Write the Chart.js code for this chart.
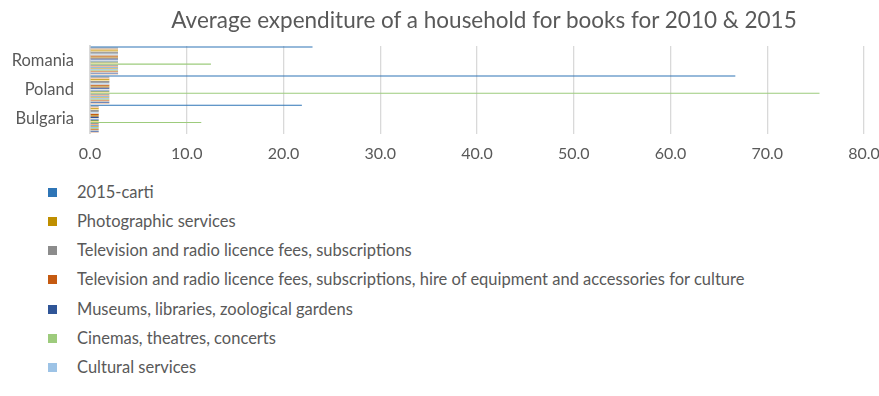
<!DOCTYPE html>
<html>
<head>
<meta charset="utf-8">
<script src="https://cdn.jsdelivr.net/npm/chart.js@4"></script>
<style>
    body { margin: 0; background: #fff; }
    #wrap { position: relative; width: 879px; height: 396px; overflow: hidden; }
    #booksChart { display: block; }
    #title { position: absolute; left: 0; top: 6px; width: 968px; text-align: center; font-family: Lato, sans-serif; font-size: 22.5px; line-height: 28px; color: #595959; white-space: nowrap; }
    #legend { position: absolute; left: 0; top: 177.5px; font-family: Lato, sans-serif; font-size: 16.5px; color: #595959; }
    .legend-row { position: relative; height: 29.3px; line-height: 29.3px; white-space: nowrap; }
    .legend-box { position: absolute; left: 48px; top: 10px; width: 9px; height: 9px; }
    .legend-text { position: absolute; left: 77px; top: 0; }
</style>
</head>
<body>
<div id="wrap">
    <canvas id="booksChart" width="879" height="170"></canvas>
    <div id="title">Average expenditure of a household for books for 2010 &amp; 2015</div>
    <div id="legend"></div>
</div>
<script>
const categories = ['Romania', 'Poland', 'Bulgaria'];

// named series, in legend order
const seriesLabels = [
    '2015-carti',
    'Photographic services',
    'Television and radio licence fees, subscriptions',
    'Television and radio licence fees, subscriptions, hire of equipment and accessories for culture',
    'Museums, libraries, zoological gardens',
    'Cinemas, theatres, concerts',
    'Cultural services'
];
const seriesColors = ['#2E75B6', '#BF8F00', '#8C8C8C', '#C55A11', '#2F5597', '#9DCB7C', '#9DC3E6'];

const books2015 = [23.0, 66.7, 21.9];
const photographic = [2.9, 2.0, 0.9];
const tvLicence = [2.9, 2.0, 0.9];
const tvLicenceHire = [2.9, 2.0, 0.9];
const museums = [2.9, 2.0, 0.9];
const cinemas = [12.5, 75.4, 11.5];
const culturalServices = [2.9, 2.0, 0.9];

// remaining expenditure items, drawn as thin bars only
const otherItems = [
    [2.9, 2.0, 0.9], [2.9, 2.0, 0.9], [2.9, 2.0, 0.9], [2.9, 2.0, 0.9],
    [2.9, 2.0, 0.9], [2.9, 2.0, 0.9], [2.9, 2.0, 0.9], [2.9, 2.0, 0.9],
    [2.9, 2.0, 0.9], [2.9, 2.0, 0.9], [2.9, 2.0, 0.9], [2.9, 2.0, 0.9],
    [2.9, 2.0, 0.9], [2.9, 2.0, 0.9], [2.9, 2.0, 0.9], [2.9, 2.0, 0.9],
    [2.9, 2.0, 0.9], [2.9, 2.0, 0.9], [2.9, 2.0, 0.9], [2.9, 2.0, 0.9],
    [2.9, 2.0, 0.9]
];
const otherColors = [
    '#A5A5A5', '#F8CBAD', '#FFE699', '#7F7F7F', '#BDD7EE', '#D0CECE', '#C9A94E',
    '#B4876A', '#E2E2E2', '#8EA9DB', '#7E9C62', '#F2D98C', '#9A9A9A', '#F4B183',
    '#7CAFDD', '#D6B656', '#B4D39A', '#D98A55', '#C9C9C9', '#6F86B8', '#EFD3BE'
];

const axisMax = 80;
const axisStep = 10;

// where each named series sits inside a category band, top to bottom
const namedValues = [books2015, photographic, tvLicence, tvLicenceHire, museums, cinemas, culturalServices];
const namedSlots = [0, 3, 6, 9, 12, 17, 22];
const barCount = namedValues.length + otherItems.length;

const datasets = [];
let other = 0;
for (let i = 0; i < barCount; i++) {
    const n = namedSlots.indexOf(i);
    if (n >= 0) {
        datasets.push({ label: seriesLabels[n], data: namedValues[n], backgroundColor: seriesColors[n] });
    } else {
        datasets.push({ label: '', data: otherItems[other], backgroundColor: otherColors[other] });
        other++;
    }
}

const legendEl = document.getElementById('legend');
seriesLabels.forEach((label, i) => {
    const row = document.createElement('div');
    row.className = 'legend-row';
    row.innerHTML = `<span class="legend-box" style="background:${seriesColors[i]}"></span><span class="legend-text">${label}</span>`;
    legendEl.appendChild(row);
});

const textColor = '#595959';
const gridColor = '#D9D9D9';

new Chart(document.getElementById('booksChart'), {
    type: 'bar',
    data: { labels: categories, datasets: datasets },
    options: {
        indexAxis: 'y',
        responsive: false,
        animation: false,
        // top padding leaves room for the title above
        layout: { padding: { left: 0, right: 0, top: 46, bottom: 5.5 } },
        datasets: {
            bar: { categoryPercentage: 0.97, barPercentage: 1, borderWidth: 0 }
        },
        plugins: {
            legend: { display: false },
            tooltip: { enabled: false },
            title: { display: false }
        },
        scales: {
            x: {
                min: 0,
                max: axisMax,
                ticks: {
                    stepSize: axisStep,
                    color: textColor,
                    font: { family: 'Lato', size: 16 },
                    padding: 11,
                    callback: value => value.toFixed(1)
                },
                grid: { color: gridColor, lineWidth: 1.3, drawTicks: false },
                border: { display: false },
                afterFit: scale => {
                    scale.height = 31;
                    scale.paddingLeft = 0;
                    scale.paddingRight = 15;
                }
            },
            y: {
                ticks: {
                    color: textColor,
                    font: { family: 'Lato', size: 16.5 },
                    padding: 16
                },
                grid: { display: false, drawTicks: false },
                border: { color: gridColor, width: 2 },
                afterFit: scale => { scale.width = 90; }
            }
        }
    }
});
</script>
</body>
</html>
